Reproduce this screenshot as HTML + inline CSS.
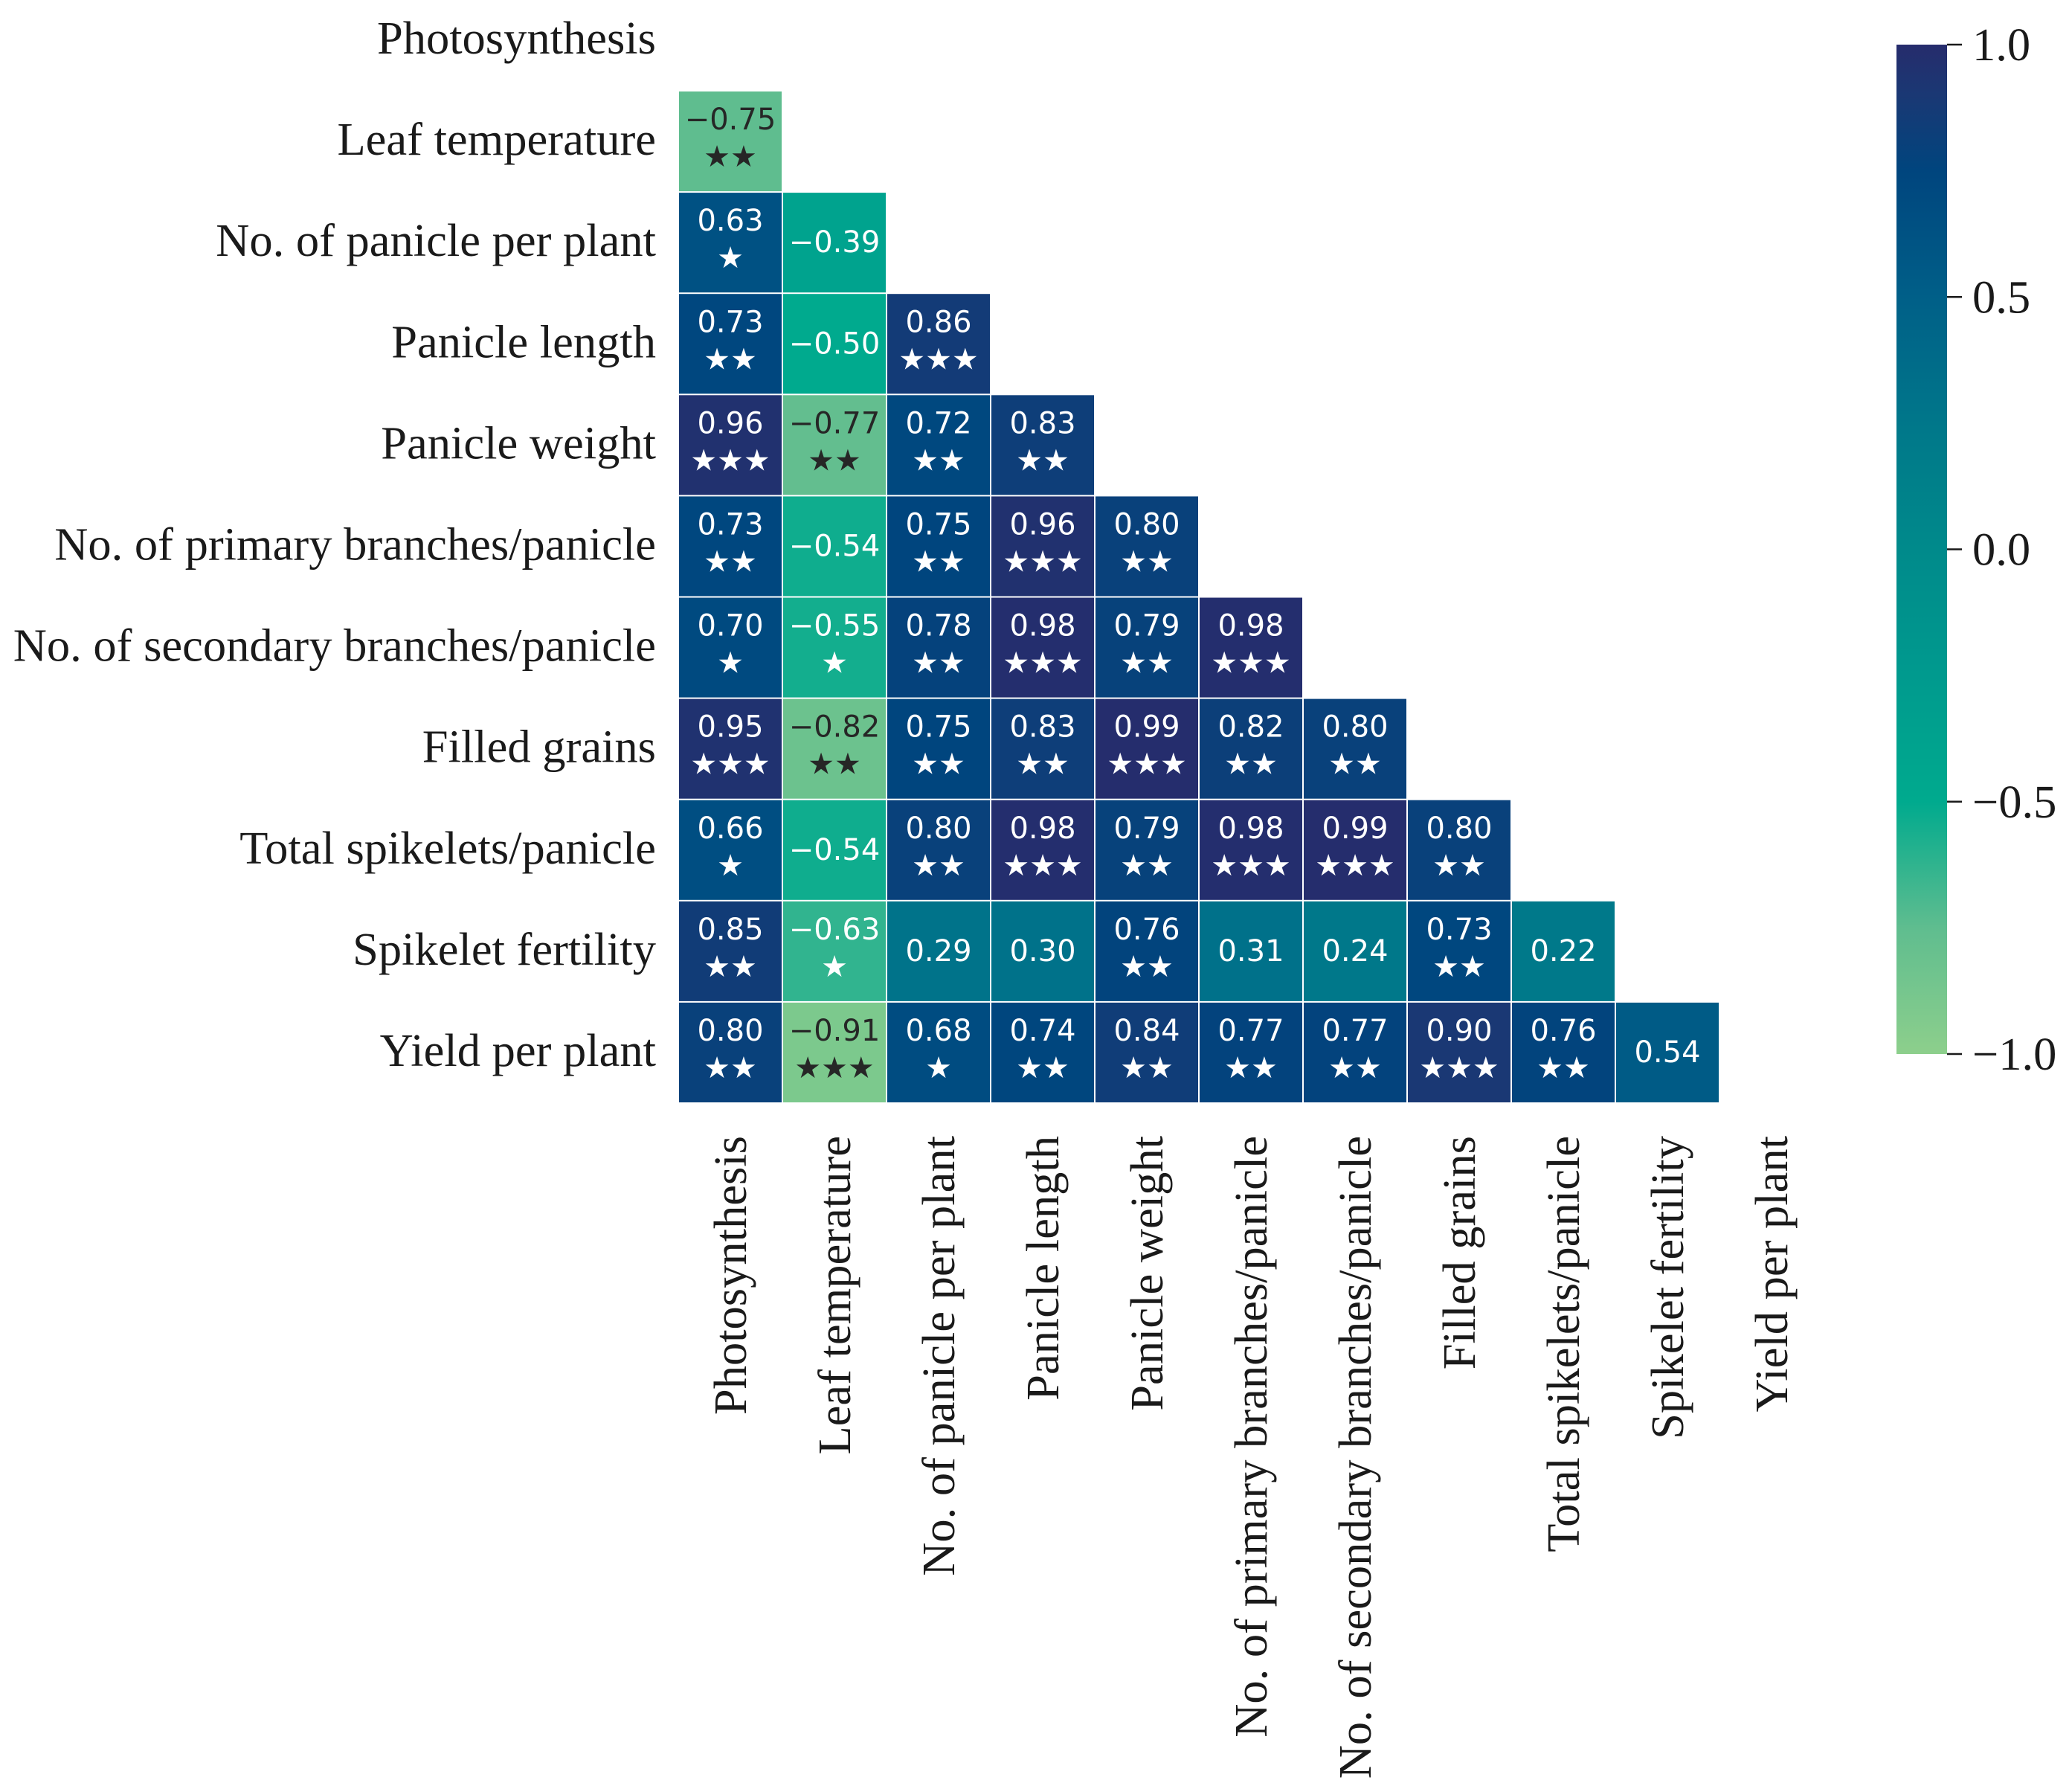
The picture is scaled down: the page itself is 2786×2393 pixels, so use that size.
<!DOCTYPE html>
<html><head><meta charset="utf-8"><style>
html,body{margin:0;padding:0;background:#fff;}
svg{display:block;}
</style></head><body>
<svg id="chart" width="2786" height="2393" viewBox="0 0 2786 2393" xmlns="http://www.w3.org/2000/svg">
<defs>
<linearGradient id="cbgrad" x1="0" y1="1" x2="0" y2="0">
<stop offset="0" stop-color="#8dcf8c"/>
<stop offset="0.125" stop-color="#5fbd8f"/>
<stop offset="0.25" stop-color="#00aa8e"/>
<stop offset="0.375" stop-color="#009a8e"/>
<stop offset="0.5" stop-color="#008a8b"/>
<stop offset="0.625" stop-color="#00778a"/>
<stop offset="0.75" stop-color="#005f88"/>
<stop offset="0.875" stop-color="#00457e"/>
<stop offset="0.95" stop-color="#1a3874"/>
<stop offset="1" stop-color="#262c6c"/>
</linearGradient>
</defs>
<g id="cells"></g>
<g id="labels"></g>
<g id="cbar"></g>
</svg>
<script>
const categories = ["Photosynthesis","Leaf temperature","No. of panicle per plant","Panicle length","Panicle weight","No. of primary branches/panicle","No. of secondary branches/panicle","Filled grains","Total spikelets/panicle","Spikelet fertility","Yield per plant"];
const values = [
 [],
 [-0.75],
 [0.63,-0.39],
 [0.73,-0.50,0.86],
 [0.96,-0.77,0.72,0.83],
 [0.73,-0.54,0.75,0.96,0.80],
 [0.70,-0.55,0.78,0.98,0.79,0.98],
 [0.95,-0.82,0.75,0.83,0.99,0.82,0.80],
 [0.66,-0.54,0.80,0.98,0.79,0.98,0.99,0.80],
 [0.85,-0.63,0.29,0.30,0.76,0.31,0.24,0.73,0.22],
 [0.80,-0.91,0.68,0.74,0.84,0.77,0.77,0.90,0.76,0.54]
];
const stars = [
 [],
 [2],
 [1,0],
 [2,0,3],
 [3,2,2,2],
 [2,0,2,3,2],
 [1,1,2,3,2,3],
 [3,2,2,2,3,2,2],
 [1,0,2,3,2,3,3,2],
 [2,1,0,0,2,0,0,2,0],
 [2,3,1,2,2,2,2,3,2,0]
];
const cbTicks = [1.0,0.5,0.0,-0.5,-1.0];

const NS="http://www.w3.org/2000/svg";
const X0=912, CW=140, Y0=-14.1, CH=136.1;
const xPos=j=>X0+j*CW, yPos=i=>Y0+i*CH;
const CB_TOP=60, CB_BOT=1417;
const cbY=v=>CB_BOT-(v+1)/2*(CB_BOT-CB_TOP);
const stops=[[-1,[141,207,140]],[-0.75,[95,189,143]],[-0.5,[0,170,142]],[-0.25,[0,154,142]],[0,[0,138,139]],[0.25,[0,119,138]],[0.5,[0,95,136]],[0.75,[0,69,126]],[0.9,[26,56,116]],[1,[38,44,108]]];
function color(v){
  for(let k=0;k<stops.length-1;k++){
    const [a,ca]=stops[k],[b,cb]=stops[k+1];
    if(v>=a&&v<=b){const t=(v-a)/(b-a);
      return "rgb("+ca.map((c,i)=>Math.round(c+(cb[i]-c)*t)).join(",")+")";}
  }
  return v<0?"rgb(141,207,140)":"rgb(38,44,108)";
}
function mk(tag,attrs,parent){const e=document.createElementNS(NS,tag);for(const k in attrs)e.setAttribute(k,attrs[k]);parent.appendChild(e);return e;}
const cells=document.getElementById("cells");
const fmt=v=>(v<0?"\u2212":"")+Math.abs(v).toFixed(2);
values.forEach((row,i)=>{
  row.forEach((v,j)=>{
    const r=mk("rect",{x:xPos(j)+1,y:yPos(i)+1,width:CW-2,height:CH-2,fill:color(v)},cells);
    
    
    const cx=xPos(j)+CW/2, cy=yPos(i)+CH/2;
    const tc=v<-0.7?"#262626":"#ffffff";
    const s=stars[i][j];
    const t=mk("text",{x:cx,y:s?cy-29:cy,"text-anchor":"middle","dominant-baseline":"central","font-family":"DejaVu Sans, sans-serif","font-size":40,fill:tc},cells);
    t.textContent=fmt(v);
    
    
    if(s){
      const st=mk("text",{x:cx,y:cy+21,"text-anchor":"middle","dominant-baseline":"central","font-family":"DejaVu Sans, sans-serif","font-size":40,fill:tc},cells);
      st.textContent="\u2605".repeat(s);
      
      
    }
  });
});
const labels=document.getElementById("labels");
categories.forEach((c,i)=>{
  const t=mk("text",{x:882,y:yPos(i)+CH/2-3,"text-anchor":"end","dominant-baseline":"central","font-family":"Liberation Serif, serif","font-size":62.5,fill:"#1a1a1a"},labels);
  t.textContent=c;
  
  
  const cx=xPos(i)+CW/2;
  const u=mk("text",{x:0,y:0,"text-anchor":"end","dominant-baseline":"central","font-family":"Liberation Serif, serif","font-size":62.5,fill:"#1a1a1a",transform:"translate("+cx+",1527) rotate(-90)"},labels);
  u.textContent=c;
  
  
});
const cbar=document.getElementById("cbar");
const bar=mk("rect",{x:2550,y:CB_TOP,width:68,height:CB_BOT-CB_TOP,fill:"url(#cbgrad)"},cbar);


cbTicks.forEach(v=>{
  const y=cbY(v);
  const l=mk("line",{x1:2618,x2:2638,y1:y,y2:y,stroke:"#1a1a1a","stroke-width":2.5},cbar);
  
  
  const t=mk("text",{x:2652,y:y,"dominant-baseline":"central","font-family":"Liberation Serif, serif","font-size":62.5,fill:"#1a1a1a"},cbar);
  t.textContent=(v<0?"\u2212":"")+Math.abs(v).toFixed(1);
  
  
});
</script>
</body></html>
